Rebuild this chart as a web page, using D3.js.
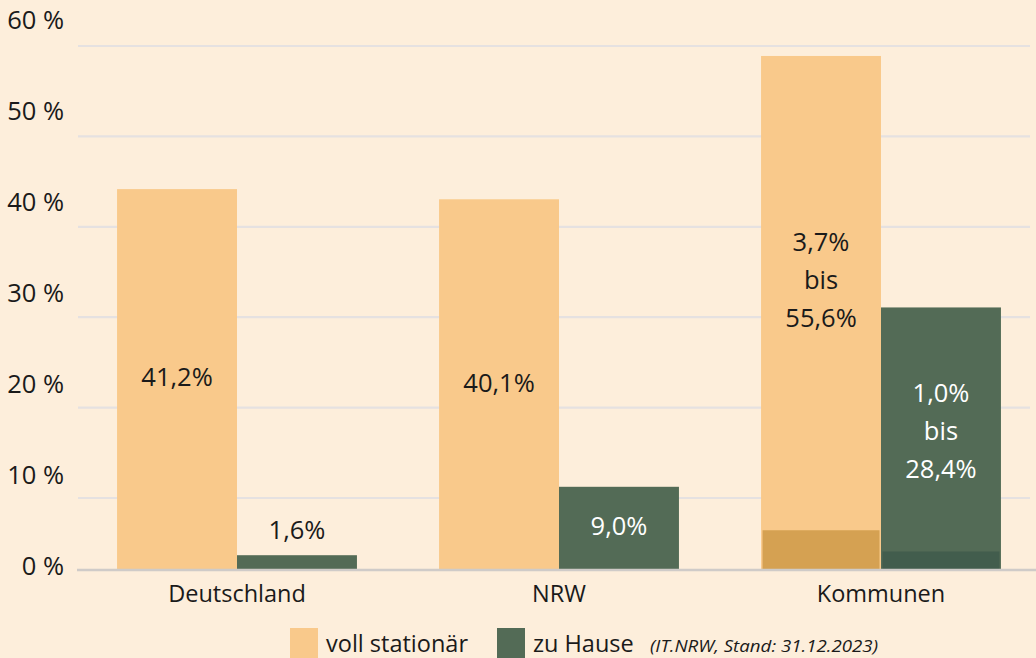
<!DOCTYPE html>
<html><head><meta charset="utf-8">
<script src="https://cdn.jsdelivr.net/npm/d3@7/dist/d3.min.js"></script>
<style>
html,body{margin:0;padding:0;background:#fdeedb;}
svg{display:block;font-family:"Open Sans",sans-serif;}
</style></head>
<body><svg id="c" width="1036" height="658"></svg>
<script>
const categories = ["Deutschland", "NRW", "Kommunen"];
const seriesNames = ["voll stationär", "zu Hause"];
const vollStationaer = [41.2, 40.1, 55.6];
const zuHause = [1.6, 9.0, 28.4];
const minVoll = [null, null, 4.3];     // drawn lower end of range (Kommunen)
const minHause = [null, null, 2.0];
const labelsVoll = [["41,2%"], ["40,1%"], ["3,7%", "bis", "55,6%"]];
const labelsHause = [["1,6%"], ["9,0%"], ["1,0%", "bis", "28,4%"]];
const yTicks = [0, 10, 20, 30, 40, 50, 60];
const sourceNote = "(IT.NRW, Stand: 31.12.2023)";

const colors = {bg:"#fdeedb", orange:"#f9c98b", green:"#536b56", orangeDark:"#cf9a48", greenDark:"#3f5a4b", grid:"#e5e1e1", base:"#cfcbc8", text:"#1a1a1a"};

const svg = d3.select("#c");
const W = 1036, H = 658;
svg.append("rect").attr("width", W).attr("height", H).attr("fill", colors.bg);

const x = d3.scaleBand().domain(categories).range([76, 1042]).paddingInner(0.255).paddingOuter(0.1275);
const xs = d3.scaleBand().domain(seriesNames).range([0, x.bandwidth()]);
const y = d3.scaleLinear().domain([0, 60]).range([570, 15.3]);
const yLab = d3.scaleLinear().domain([0, 60]).range([566, 20]);
const yGrid = d3.scaleLinear().domain([10, 60]).range([498, 46]);

// gridlines
svg.append("g").selectAll("line").data(yTicks.filter(t => t > 0)).join("line")
  .attr("x1", 78).attr("x2", 1030)
  .attr("y1", d => yGrid(d)).attr("y2", d => yGrid(d))
  .attr("stroke", colors.grid).attr("stroke-width", 2.2);

// y labels
svg.append("g").selectAll("text").data(yTicks).join("text")
  .attr("x", 64).attr("y", d => yLab(d)).attr("dy", "0.35em")
  .attr("text-anchor", "end").attr("font-size", 25.5).attr("fill", colors.text)
  .text(d => d + " %");

const rows = categories.map((c, i) => ({c, i}));
const series = [
  {name: seriesNames[0], vals: vollStationaer, mins: minVoll, labels: labelsVoll, fill: colors.orange, dark: colors.orangeDark, tc: colors.text, frac: 0.435},
  {name: seriesNames[1], vals: zuHause, mins: minHause, labels: labelsHause, fill: colors.green, dark: colors.greenDark, tc: "#ffffff", frac: 0.47}
];

const gBars = svg.append("g");
series.forEach(s => {
  gBars.append("g").selectAll("rect").data(rows).join("rect")
    .attr("x", d => x(d.c) + xs(s.name)).attr("width", xs.bandwidth())
    .attr("y", d => y(s.vals[d.i])).attr("height", d => y(0) - y(s.vals[d.i]))
    .attr("fill", s.fill);
  gBars.append("g").selectAll("rect").data(rows.filter(d => s.mins[d.i] != null)).join("rect")
    .attr("x", d => x(d.c) + xs(s.name) + 1.5).attr("width", xs.bandwidth() - 3)
    .attr("y", d => y(s.mins[d.i])).attr("height", d => y(0) - y(s.mins[d.i]))
    .attr("fill", s.dark).attr("opacity", 0.85);
});

// baseline
svg.append("line").attr("x1", 77).attr("x2", 1036).attr("y1", y(0)).attr("y2", y(0))
  .attr("stroke", colors.base).attr("stroke-width", 2.5);

// bar labels
const lineH = 38;
series.forEach(s => {
  rows.forEach(d => {
    const lines = s.labels[d.i];
    const top = y(s.vals[d.i]), bot = y(0);
    const cx = x(d.c) + xs(s.name) + xs.bandwidth() / 2;
    let cy, col = s.tc;
    if (bot - top < 40) { cy = top - 25; col = colors.text; }
    else if (lines.length > 1) cy = top + (bot - top) * s.frac;
    else cy = (top + bot) / 2 - 2;
    const t = svg.append("text").attr("text-anchor", "middle").attr("font-size", 25.5).attr("fill", col);
    lines.forEach((ln, k) => {
      t.append("tspan").attr("x", cx).attr("y", cy + (k - (lines.length - 1) / 2) * lineH).attr("dy", "0.35em").text(ln);
    });
  });
});

// category labels
svg.append("g").selectAll("text").data(categories).join("text")
  .attr("x", d => x(d) + x.bandwidth() / 2).attr("y", 594).attr("dy", "0.35em")
  .attr("text-anchor", "middle").attr("font-size", 23.5).attr("fill", colors.text).text(d => d);

// legend
const lg = svg.append("g");
const legendItems = [{n: seriesNames[0], c: colors.orange, x: 290}, {n: seriesNames[1], c: colors.green, x: 497}];
legendItems.forEach(it => {
  lg.append("rect").attr("x", it.x).attr("y", 628).attr("width", 28).attr("height", 30).attr("fill", it.c);
  lg.append("text").attr("x", it.x + 36).attr("y", 652).attr("font-size", 23.5).attr("fill", colors.text).text(it.n);
});
lg.append("text").attr("x", 650).attr("y", 652).attr("font-size", 17).attr("font-style", "italic")
  .attr("fill", colors.text).attr("textLength", 228).attr("lengthAdjust", "spacingAndGlyphs").text(sourceNote);
</script></body></html>
